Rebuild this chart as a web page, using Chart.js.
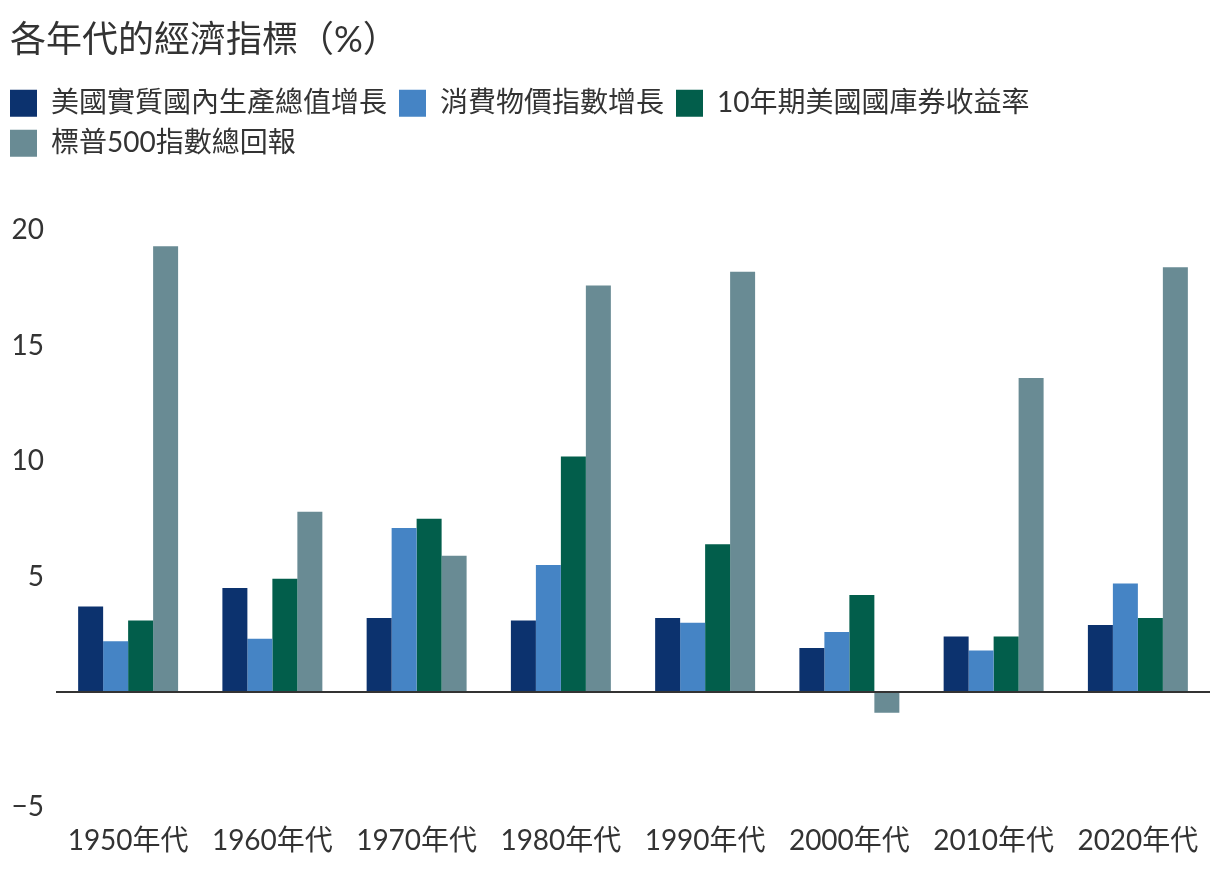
<!DOCTYPE html>
<html>
<head>
<meta charset="utf-8">
<script src="https://cdn.jsdelivr.net/npm/chart.js@4/dist/chart.umd.min.js"></script>
<style>
  html, body { margin: 0; padding: 0; background: #ffffff; }
  #wrap { width: 1220px; height: 880px; position: relative; }
</style>
</head>
<body>
<div id="wrap"><canvas id="c"></canvas></div>
<script>
const titleText = '各年代的經濟指標（%）';
const categories = ['1950年代', '1960年代', '1970年代', '1980年代', '1990年代', '2000年代', '2010年代', '2020年代'];
const seriesNames = ['美國實質國內生產總值增長', '消費物價指數增長', '10年期美國國庫券收益率', '標普500指數總回報'];
const gdpGrowth   = [3.7, 4.5, 3.2, 3.1, 3.2, 1.9, 2.4, 2.9];
const cpiGrowth   = [2.2, 2.3, 7.1, 5.5, 3.0, 2.6, 1.8, 4.7];
const treasury10y = [3.1, 4.9, 7.5, 10.2, 6.4, 4.2, 2.4, 3.2];
const sp500Return = [19.3, 7.8, 5.9, 17.6, 18.2, -0.9, 13.6, 18.4];
const yTicks = [-5, 0, 5, 10, 15, 20];
const yTickLabels = ['\u22125', '', '5', '10', '15', '20'];

const colors = ['#0c326e', '#4584c5', '#025e4b', '#698b94'];
const FONT = "Lato, 'Noto Sans CJK TC', 'Noto Sans', sans-serif";
const TEXT = '#333333';

const layoutTweaks = {
  id: 'layoutTweaks',
  beforeLayout(chart) {
    const lg = chart.legend;
    if (lg && !lg._patched) {
      const f = lg.fit;
      lg.fit = function () { f.call(this); this.height += 63; };
      lg._patched = true;
    }
  },
  afterLayout(chart) {
    if (chart.titleBlock) chart.titleBlock.left = 10;
    if (chart.legend) chart.legend.left = -2;
  }
};

const seriesData = [gdpGrowth, cpiGrowth, treasury10y, sp500Return];

new Chart(document.getElementById('c'), {
  type: 'bar',
  data: {
    labels: categories,
    datasets: seriesNames.map((name, i) => ({
      label: name,
      data: seriesData[i],
      backgroundColor: colors[i],
      borderWidth: 0,
      categoryPercentage: 0.693,
      barPercentage: 1.0
    }))
  },
  options: {
    responsive: true,
    maintainAspectRatio: false,
    animation: false,
    devicePixelRatio: 1,
    layout: { padding: { left: 0, right: 10, top: 0, bottom: 5 } },
    plugins: {
      title: {
        display: true,
        text: titleText,
        align: 'start',
        color: TEXT,
        font: { family: FONT, size: 36, weight: 'normal' },
        padding: { top: 19, bottom: 15 }
      },
      legend: {
        display: true,
        position: 'top',
        align: 'start',
        labels: {
          boxWidth: 27,
          boxHeight: 27,
          padding: 12,
          color: TEXT,
          font: { family: FONT, size: 28 }
        }
      },
      tooltip: { enabled: false }
    },
    scales: {
      x: {
        grid: { display: false, drawTicks: false },
        border: { display: false },
        ticks: {
          color: TEXT,
          padding: 17,
          font: { family: FONT, size: 28 }
        }
      },
      y: {
        min: -5,
        max: 20,
        afterFit(scale) { scale.width = 56; },
        afterBuildTicks(scale) { scale.ticks = yTicks.map(v => ({ value: v })); },
        grid: {
          drawTicks: false,
          lineWidth: 2,
          color: ctx => (ctx.tick && ctx.tick.value === 0) ? '#333333' : 'rgba(0,0,0,0)'
        },
        border: { display: false },
        ticks: {
          color: TEXT,
          padding: 12,
          font: { family: FONT, size: 28 },
          callback: (v) => { const k = yTicks.indexOf(v); return k >= 0 ? yTickLabels[k] : ''; }
        }
      }
    }
  },
  plugins: [layoutTweaks]
});
</script>
</body>
</html>
